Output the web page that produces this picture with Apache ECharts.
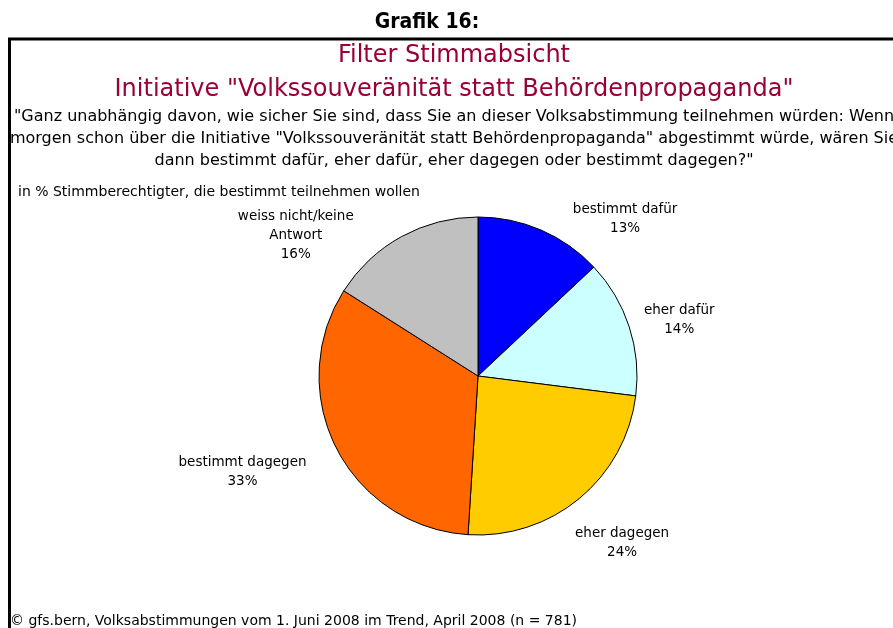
<!DOCTYPE html>
<html>
<head>
<meta charset="utf-8">
<script src="https://cdn.jsdelivr.net/npm/echarts@6/dist/echarts.min.js"></script>
<style>
  html, body { margin: 0; padding: 0; background: #fff; }
  #chart { width: 893px; height: 628px; }
</style>
</head>
<body>
<div id="chart"></div>
<script>
const categories = ['bestimmt dafür', 'eher dafür', 'eher dagegen', 'bestimmt dagegen', 'weiss nicht/keine\nAntwort']
const values = [13, 14, 24, 33, 16]
const sliceColors = ['#0000ff', '#ccffff', '#ffcc00', '#ff6600', '#c0c0c0']

const heading = 'Grafik 16:'
const titleLines = ['Filter Stimmabsicht', 'Initiative "Volkssouveränität statt Behördenpropaganda"']
const questionLines = [
  '"Ganz unabhängig davon, wie sicher Sie sind, dass Sie an dieser Volksabstimmung teilnehmen würden: Wenn',
  'morgen schon über die Initiative "Volkssouveränität statt Behördenpropaganda" abgestimmt würde, wären Sie',
  'dann bestimmt dafür, eher dafür, eher dagegen oder bestimmt dagegen?"'
]
const baseNote = 'in % Stimmberechtigter, die bestimmt teilnehmen wollen'
const sourceNote = '© gfs.bern, Volksabstimmungen vom 1. Juni 2008 im Trend, April 2008 (n = 781)'

const font = 'Tahoma, "DejaVu Sans", sans-serif'
// label nudges relative to the default outside anchor
const labelShift = [[76, 7], [31, -1], [30, 29], [-76, 15], [-96, 16]]

const chart = echarts.init(document.getElementById('chart'), null, { renderer: 'canvas' })

const textEl = (text, x, y, size, opts) => Object.assign({
  type: 'text',
  x: x,
  y: y,
  silent: true,
  style: Object.assign({
    text: text,
    fontFamily: font,
    fontSize: size,
    fill: '#000',
    align: 'center',
    verticalAlign: 'middle'
  }, opts || {})
})

chart.setOption({
  backgroundColor: '#fff',
  animation: false,
  graphic: [
    {
      type: 'rect',
      silent: true,
      shape: { x: 9.5, y: 39, width: 1000, height: 1000 },
      style: { fill: 'none', stroke: '#000', lineWidth: 3 }
    },
    textEl(heading, 427, 23, 21, { fontWeight: 'bold', fontFamily: '"DejaVu Sans Condensed", sans-serif' }),
    textEl(titleLines[0], 454, 56, 24, { fill: '#990033' }),
    textEl(titleLines[1], 454, 90, 24, { fill: '#990033' }),
    textEl(questionLines[0], 454, 117, 16),
    textEl(questionLines[1], 454, 139, 16),
    textEl(questionLines[2], 454, 161, 16),
    textEl(baseNote, 18, 192, 14, { align: 'left' }),
    textEl(sourceNote, 10, 621, 14, { align: 'left' })
  ],
  series: [{
    type: 'pie',
    center: [478, 376],
    radius: 159,
    startAngle: 90,
    clockwise: true,
    avoidLabelOverlap: false,
    itemStyle: { borderColor: '#000', borderWidth: 1 },
    label: {
      show: true,
      position: 'outside',
      formatter: '{b}\n{c}%',
      fontFamily: font,
      fontSize: 13.5,
      lineHeight: 19,
      color: '#000',
      distanceToLabelLine: 0
    },
    labelLine: { show: false, length: 20, length2: 0 },
    labelLayout: function (params) {
      const s = labelShift[params.dataIndex]
      return { align: 'center', dx: s[0], dy: s[1] }
    },
    emphasis: { disabled: true },
    data: categories.map((name, i) => ({
      name: name,
      value: values[i],
      itemStyle: { color: sliceColors[i] }
    }))
  }]
})
</script>
</body>
</html>
